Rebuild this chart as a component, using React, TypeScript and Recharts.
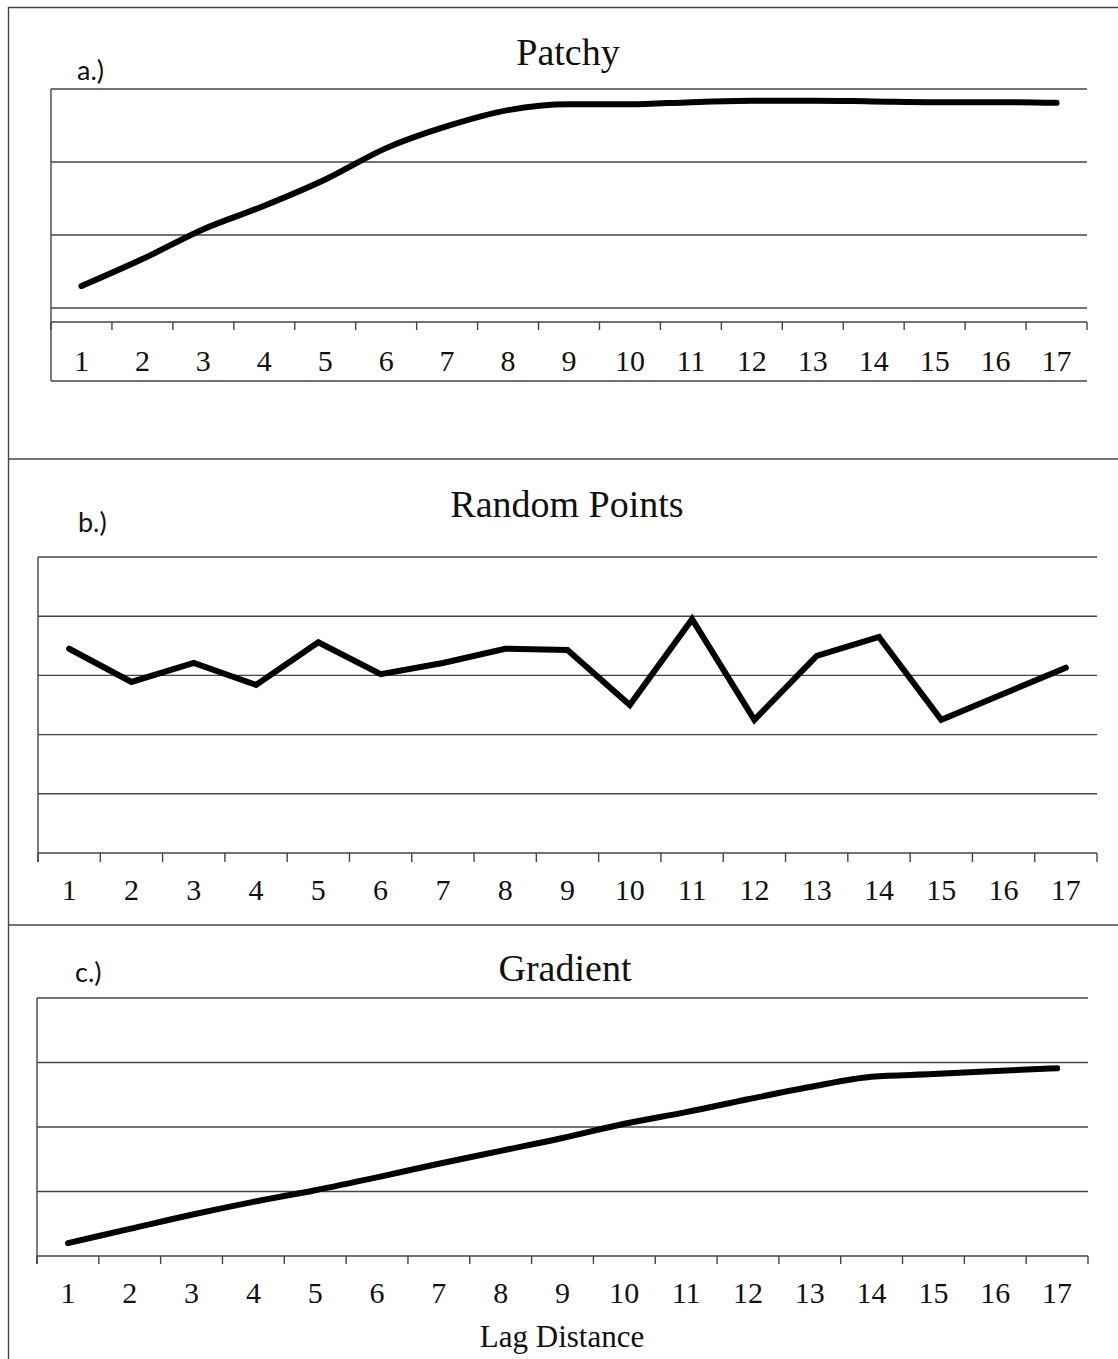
import React from 'react';
import { LineChart, Line, XAxis, YAxis, ReferenceLine } from 'recharts';

// ---- data ----
const lags = [1, 2, 3, 4, 5, 6, 7, 8, 9, 10, 11, 12, 13, 14, 15, 16, 17];
const patchyValues = [1.3, 1.67, 2.08, 2.4, 2.76, 3.19, 3.49, 3.71, 3.79, 3.79, 3.82, 3.84, 3.84, 3.83, 3.82, 3.82, 3.81];
const randomValues = [3.45, 2.89, 3.21, 2.84, 3.56, 3.02, 3.21, 3.45, 3.43, 2.5, 3.95, 2.25, 3.33, 3.65, 2.25, 2.69, 3.13];
const gradientValues = [0.2, 0.42, 0.64, 0.84, 1.02, 1.22, 1.43, 1.63, 1.83, 2.05, 2.23, 2.43, 2.62, 2.78, 2.82, 2.87, 2.91];
const patchyGrid = [1, 2, 3, 4];
const randomGrid = [1, 2, 3, 4, 5];
const gradientGrid = [1, 2, 3, 4];
const panelTitles = ['Patchy', 'Random Points', 'Gradient'];
const panelLabels = ['a.)', 'b.)', 'c.)'];
const xAxisTitle = 'Lag Distance';

const W = 1118;
const H = 1359;
const SERIF = '"Liberation Serif", "Times New Roman", serif';
const SANS = 'Lato, "Open Sans", sans-serif';
const GRID = '#444';

const makeTick = (half: number, lastValue: number, labelDy: number, tickLen: number) => (props: any) => {
  const { x, y, payload } = props;
  return (
    <g>
      <line x1={x - half} x2={x - half} y1={y} y2={y + tickLen} stroke={GRID} strokeWidth={1.4} />
      {payload.value === lastValue && (
        <line x1={x + half} x2={x + half} y1={y} y2={y + tickLen} stroke={GRID} strokeWidth={1.4} />
      )}
      <text x={x} y={y + labelDy} textAnchor="middle" fontFamily={SERIF} fontSize={30} fill="#111">
        {payload.value}
      </text>
    </g>
  );
};

type PanelProps = {
  top: number;
  height: number;
  plotLeft: number;
  plotRight: number;
  plotTop: number;
  axisY: number;
  values: number[];
  domain: [number, number];
  grid: number[];
  lineType: 'monotone' | 'linear';
  labelDy: number;
  tickLen: number;
};

const Panel = (p: PanelProps) => {
  const data = lags.map((lag, i) => ({ lag, v: p.values[i] }));
  const half = (p.plotRight - p.plotLeft) / lags.length / 2;
  const xAxisHeight = 60;
  const margin = {
    top: p.plotTop - p.top,
    left: p.plotLeft,
    right: W - p.plotRight,
    bottom: p.height - (p.axisY - p.top) - xAxisHeight,
  };
  return (
    <div style={{ position: 'absolute', left: 0, top: p.top, width: W, height: p.height }}>
      <LineChart width={W} height={p.height} data={data} margin={margin}>
        <XAxis
          dataKey="lag"
          type="number"
          domain={[0.5, lags.length + 0.5]}
          ticks={lags}
          interval={0}
          allowDataOverflow
          height={xAxisHeight}
          tickSize={0}
          tickMargin={0}
          tickLine={false}
          axisLine={{ stroke: GRID, strokeWidth: 1.4 }}
          tick={makeTick(half, lags[lags.length - 1], p.labelDy, p.tickLen)}
        />
        <YAxis hide type="number" domain={p.domain} allowDataOverflow />
        {p.grid.map((g) => (
          <ReferenceLine key={g} y={g} stroke={GRID} strokeWidth={1.4} />
        ))}
        <Line
          dataKey="v"
          type={p.lineType}
          stroke="#000"
          strokeWidth={6}
          strokeLinecap="round"
          strokeLinejoin={p.lineType === 'linear' ? 'miter' : 'round'}
          dot={false}
          activeDot={false}
          isAnimationActive={false}
        />
      </LineChart>
    </div>
  );
};

export default function App() {
  return (
    <div style={{ position: 'absolute', left: 0, top: 0, width: W, height: H, background: '#fff', overflow: 'hidden' }}>
      <Panel
        top={0}
        height={459}
        plotLeft={51}
        plotRight={1087}
        plotTop={89}
        axisY={322}
        values={patchyValues}
        domain={[0.808, 4]}
        grid={patchyGrid}
        lineType="monotone"
        labelDy={49}
        tickLen={8}
      />
      <Panel
        top={459}
        height={466}
        plotLeft={38}
        plotRight={1097}
        plotTop={557}
        axisY={853}
        values={randomValues}
        domain={[0, 5]}
        grid={randomGrid}
        lineType="linear"
        labelDy={47}
        tickLen={9}
      />
      <Panel
        top={925}
        height={434}
        plotLeft={37}
        plotRight={1088}
        plotTop={998}
        axisY={1256}
        values={gradientValues}
        domain={[0, 4]}
        grid={gradientGrid}
        lineType="monotone"
        labelDy={47}
        tickLen={8}
      />
      <svg width={W} height={H} style={{ position: 'absolute', left: 0, top: 0, pointerEvents: 'none' }}>
        {/* outer frame and separators */}
        <line x1={8.5} x2={8.5} y1={7} y2={H} stroke={GRID} strokeWidth={1.4} />
        <line x1={8} x2={W} y1={7.5} y2={7.5} stroke={GRID} strokeWidth={1.4} />
        <line x1={8} x2={W} y1={459} y2={459} stroke={GRID} strokeWidth={1.4} />
        <line x1={8} x2={W} y1={925} y2={925} stroke={GRID} strokeWidth={1.4} />
        {/* panel frames */}
        <line x1={51} x2={51} y1={89} y2={381} stroke={GRID} strokeWidth={1.4} />
        <line x1={51} x2={1087} y1={381} y2={381} stroke={GRID} strokeWidth={1.4} />
        <line x1={38} x2={38} y1={557} y2={862} stroke={GRID} strokeWidth={1.4} />
        <line x1={37} x2={37} y1={998} y2={1264} stroke={GRID} strokeWidth={1.4} />
        {/* titles */}
        <text x={568} y={65} textAnchor="middle" fontFamily={SERIF} fontSize={38} fill="#111">{panelTitles[0]}</text>
        <text x={567} y={517} textAnchor="middle" fontFamily={SERIF} fontSize={38} fill="#111">{panelTitles[1]}</text>
        <text x={565} y={981} textAnchor="middle" fontFamily={SERIF} fontSize={38} fill="#111">{panelTitles[2]}</text>
        <text x={562} y={1347} textAnchor="middle" fontFamily={SERIF} fontSize={31} fill="#111">{xAxisTitle}</text>
        {/* panel labels */}
        <text x={77} y={80} fontFamily={SANS} fontSize={27} fill="#111">{panelLabels[0]}</text>
        <text x={78} y={532} fontFamily={SANS} fontSize={27} fill="#111">{panelLabels[1]}</text>
        <text x={75} y={982} fontFamily={SANS} fontSize={27} fill="#111">{panelLabels[2]}</text>
      </svg>
    </div>
  );
}
